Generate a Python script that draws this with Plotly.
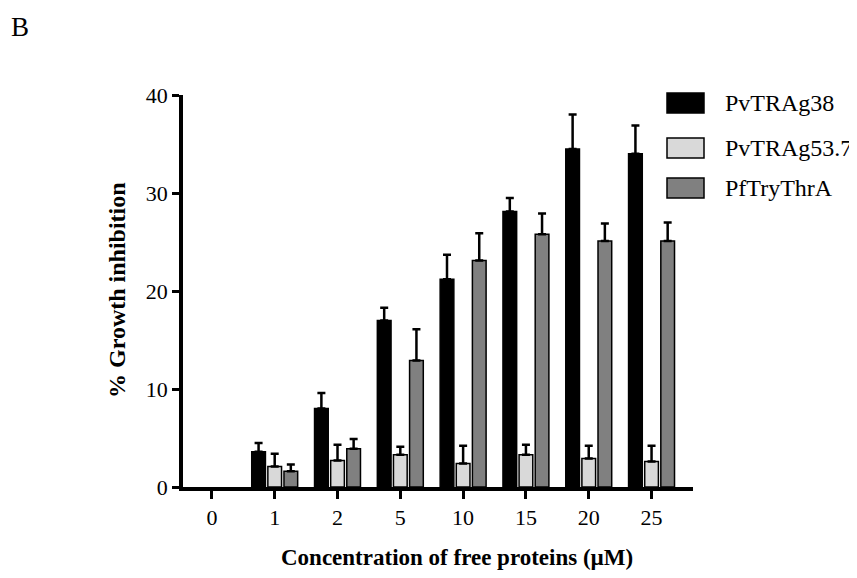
import numpy as np
import plotly.graph_objects as go

categories = ["0", "1", "2", "5", "10", "15", "20", "25"]
series_names = ["PvTRAg38", "PvTRAg53.7", "PfTryThrA"]
pvtrag38 = [0, 3.6, 8.0, 17.0, 21.2, 28.1, 34.5, 34.0]
pvtrag38_err = [0, 0.9, 1.6, 1.3, 2.5, 1.4, 3.5, 2.9]
pvtrag537 = [0, 2.1, 2.7, 3.3, 2.4, 3.3, 2.9, 2.6]
pvtrag537_err = [0, 1.3, 1.6, 0.8, 1.8, 1.0, 1.3, 1.6]
pftrythra = [0, 1.6, 3.9, 12.9, 23.1, 25.8, 25.1, 25.1]
pftrythra_err = [0, 0.7, 1.0, 3.2, 2.8, 2.1, 1.8, 1.9]
y_ticks = [0, 10, 20, 30, 40]
x_title = "Concentration of free proteins (µM)"
y_title = "% Growth inhibition"
panel_label = "B"

colors = ["#000000", "#d9d9d9", "#808080"]
values = [pvtrag38, pvtrag537, pftrythra]
errors = [pvtrag38_err, pvtrag537_err, pftrythra_err]

FONT = "Liberation Serif"
OFF = 8  # default page body margin
W, H = 857 - OFF, 578 - OFF
L, R, T, B = 183 - OFF, 164, 95 - OFF, 91
PW, PH = W - L - R, H - T - B


def px(x):
    return (x - OFF - L) / PW


def py(y):
    return (H + OFF - B - y) / PH


fig = go.Figure()
for name, vals, errs, col in zip(series_names, values, errors, colors):
    e_plus = np.array([e if e > 0 else np.nan for e in errs], dtype=float)
    e_minus = np.array([0.0 if e > 0 else np.nan for e in errs], dtype=float)
    fig.add_trace(go.Bar(
        x=categories, y=vals, name=name,
        marker=dict(color=col,
                    line=dict(color="black",
                              width=[0 if v == 0 else 1.5 for v in vals])),
        error_y=dict(type="data", array=e_plus, arrayminus=e_minus,
                     symmetric=False, color="black", thickness=2.5, width=4),
        showlegend=False,
    ))

# custom legend (large swatches like the original)
row_tops = [93, 138, 178]
for name, col, top in zip(series_names, colors, row_tops):
    fig.add_shape(type="rect", xref="paper", yref="paper",
                  x0=px(667), x1=px(704), y0=py(top + 20), y1=py(top),
                  fillcolor=col, line=dict(color="black", width=1.5))
    fig.add_annotation(xref="paper", yref="paper", x=px(723), y=py(top + 10),
                       text=name, showarrow=False, xanchor="left", yanchor="middle",
                       font=dict(family=FONT, size=24, color="black"))

fig.add_annotation(xref="paper", yref="paper", x=px(9), y=py(27), text=panel_label,
                   showarrow=False, xanchor="left", yanchor="middle",
                   font=dict(family=FONT, size=27, color="black"))

fig.add_annotation(xref="paper", yref="paper", x=px(457), y=py(557),
                   text="<b>" + x_title + "</b>", showarrow=False,
                   xanchor="center", yanchor="middle",
                   font=dict(family=FONT, size=23, color="black"))
fig.add_annotation(xref="paper", yref="paper", x=px(117), y=py(290),
                   text="<b>" + y_title + "</b>", showarrow=False, textangle=-90,
                   xanchor="center", yanchor="middle",
                   font=dict(family=FONT, size=24, color="black"))

fig.update_layout(
    width=W, height=H,
    margin=dict(l=L, r=R, t=T, b=B, autoexpand=False),
    paper_bgcolor="white", plot_bgcolor="white",
    barmode="group", bargap=0.23, bargroupgap=0.15,
    font=dict(family=FONT, size=22, color="black"),
    xaxis=dict(
        type="category", range=[-0.46, 7.66], automargin=False,
        showline=True, linecolor="black", linewidth=3.5,
        ticks="outside", ticklen=8, tickwidth=3, tickcolor="black",
        showgrid=False, zeroline=False,
        tickfont=dict(family=FONT, size=22, color="black"),
    ),
    yaxis=dict(
        range=[0, 40], tickvals=y_ticks, automargin=False,
        showline=True, linecolor="black", linewidth=3.5,
        ticks="outside", ticklen=7, tickwidth=3, tickcolor="black",
        showgrid=False, zeroline=False,
        tickfont=dict(family=FONT, size=22, color="black"),
    ),
)

fig.write_html("out.html")
